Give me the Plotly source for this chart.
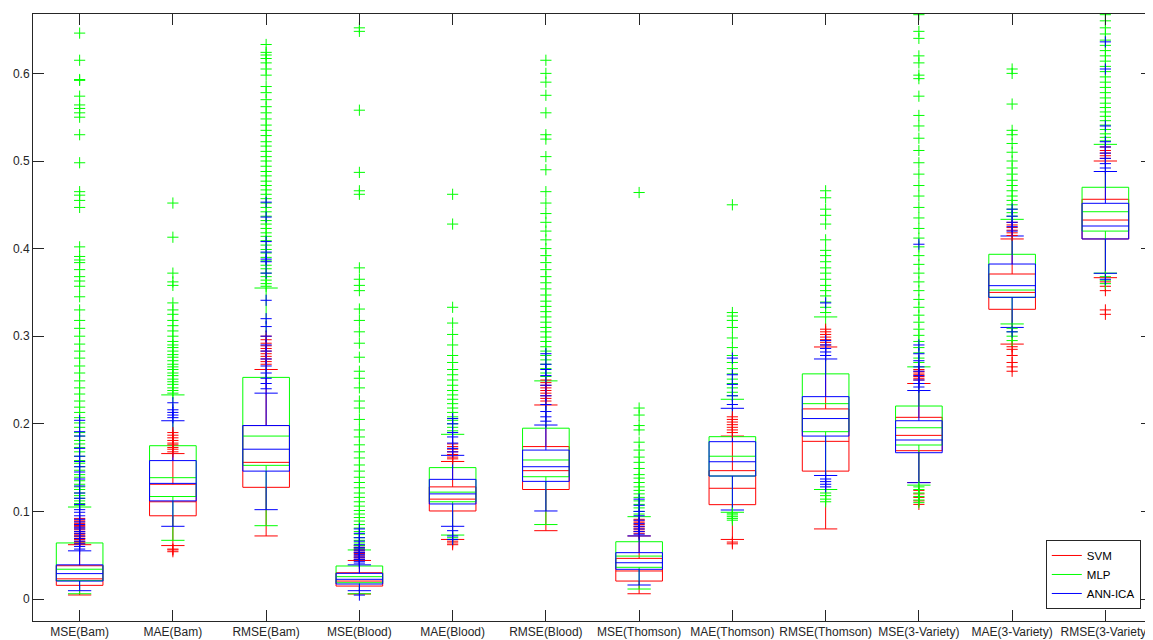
import plotly.graph_objects as go

categories = ["MSE(Bam)", "MAE(Bam)", "RMSE(Bam)", "MSE(Blood)", "MAE(Blood)", "RMSE(Blood)",
              "MSE(Thomson)", "MAE(Thomson)", "RMSE(Thomson)", "MSE(3-Variety)", "MAE(3-Variety)",
              "RMSE(3-Variety)"]
series_names = ["SVM", "MLP", "ANN-ICA"]
series_colors = ["#ff0000", "#00ff00", "#0000ff"]

# ---- SVM (red) ----
svm_lower = [0.0046, 0.061, 0.072, 0.0057, 0.068, 0.078, 0.006, 0.068, 0.080, 0.133, 0.291, 0.3668]
svm_q1 = [0.0156, 0.095, 0.1275, 0.0148, 0.1005, 0.125, 0.0205, 0.1077, 0.146, 0.1693, 0.3307, 0.411]
svm_median = [0.023, 0.111, 0.156, 0.0205, 0.114, 0.1465, 0.032, 0.1264, 0.180, 0.1868, 0.350, 0.4326]
svm_q3 = [0.038, 0.131, 0.198, 0.030, 0.128, 0.174, 0.0464, 0.1465, 0.217, 0.2074, 0.371, 0.4563]
svm_upper = [0.062, 0.166, 0.262, 0.044, 0.157, 0.2215, 0.072, 0.186, 0.2877, 0.246, 0.411, 0.500]
svm_outliers = [
    [0.063, 0.065, 0.066, 0.068, 0.069, 0.071, 0.072, 0.074, 0.075, 0.077, 0.079, 0.081, 0.083, 0.084, 0.086, 0.088, 0.090, 0.092],
    [0.054, 0.056, 0.057, 0.168, 0.171, 0.173, 0.176, 0.178, 0.181, 0.184, 0.187, 0.190],
    [0.268, 0.271, 0.274, 0.277, 0.280, 0.283, 0.286, 0.289, 0.292, 0.296, 0.300],
    [0.045, 0.047, 0.048, 0.050, 0.052, 0.053, 0.055, 0.057, 0.059, 0.061],
    [0.062, 0.064, 0.066, 0.160, 0.162, 0.165, 0.168, 0.171, 0.174, 0.177],
    [0.226, 0.229, 0.232, 0.235, 0.238, 0.241, 0.244, 0.247, 0.250],
    [0.075, 0.077, 0.079, 0.081, 0.083, 0.085, 0.087, 0.089, 0.091],
    [0.063, 0.065, 0.190, 0.193, 0.196, 0.199, 0.202, 0.205, 0.208],
    [0.290, 0.293, 0.296, 0.299, 0.302, 0.305, 0.308],
    [0.108, 0.112, 0.116, 0.120, 0.124, 0.250, 0.252, 0.254, 0.256, 0.258, 0.260, 0.262],
    [0.260, 0.265, 0.270, 0.278, 0.285, 0.288, 0.415, 0.418, 0.421, 0.424, 0.427, 0.430],
    [0.325, 0.330, 0.352, 0.357, 0.362, 0.503, 0.506, 0.509, 0.512, 0.516],
]

# ---- MLP (green) ----
mlp_lower = [0.006, 0.067, 0.0837, 0.006, 0.073, 0.085, 0.0114, 0.099, 0.125, 0.130, 0.314, 0.372]
mlp_q1 = [0.021, 0.117, 0.1526, 0.0186, 0.111, 0.1396, 0.0362, 0.1404, 0.191, 0.1758, 0.3444, 0.420]
mlp_median = [0.034, 0.1385, 0.186, 0.0255, 0.122, 0.1587, 0.049, 0.163, 0.223, 0.1955, 0.3527, 0.4421]
mlp_q3 = [0.064, 0.175, 0.253, 0.0377, 0.150, 0.195, 0.0654, 0.1853, 0.257, 0.2203, 0.3935, 0.470]
mlp_upper = [0.105, 0.233, 0.355, 0.056, 0.188, 0.249, 0.094, 0.228, 0.322, 0.265, 0.4334, 0.519]
mlp_outliers = [
    [0.107, 0.109, 0.112, 0.115, 0.118, 0.121, 0.125, 0.128, 0.131, 0.135, 0.139, 0.142, 0.147, 0.151,
     0.155, 0.158, 0.163, 0.168, 0.173, 0.177, 0.181, 0.186, 0.190, 0.196, 0.201, 0.207, 0.213, 0.219,
     0.226, 0.234, 0.241, 0.249, 0.258, 0.266, 0.275, 0.283, 0.291, 0.300, 0.309, 0.318, 0.330, 0.345,
     0.357, 0.363, 0.368, 0.376, 0.384, 0.387, 0.391, 0.402, 0.447, 0.455, 0.461, 0.465, 0.498, 0.530,
     0.550, 0.555, 0.560, 0.564, 0.574, 0.592, 0.593, 0.615, 0.646],
    [0.235, 0.238, 0.241, 0.245, 0.248, 0.251, 0.255, 0.258, 0.262, 0.265, 0.268, 0.272, 0.276, 0.279,
     0.283, 0.287, 0.290, 0.294, 0.300, 0.306, 0.312, 0.318, 0.325, 0.330, 0.338, 0.358, 0.362, 0.372,
     0.413, 0.452],
    [0.357, 0.360, 0.364, 0.368, 0.372, 0.377, 0.381, 0.386, 0.390, 0.395, 0.399, 0.404, 0.409, 0.414,
     0.418, 0.423, 0.428, 0.432, 0.437, 0.442, 0.447, 0.452, 0.457, 0.462, 0.467, 0.472, 0.477, 0.483,
     0.488, 0.494, 0.500, 0.505, 0.511, 0.517, 0.522, 0.529, 0.535, 0.541, 0.548, 0.555, 0.562, 0.570,
     0.578, 0.585, 0.598, 0.605, 0.612, 0.617, 0.621, 0.624, 0.633],
    [0.058, 0.061, 0.064, 0.067, 0.070, 0.074, 0.077, 0.081, 0.085, 0.089, 0.093, 0.097, 0.101, 0.106,
     0.111, 0.116, 0.121, 0.127, 0.133, 0.139, 0.146, 0.153, 0.161, 0.168, 0.176, 0.185, 0.193, 0.205,
     0.218, 0.226, 0.241, 0.252, 0.260, 0.276, 0.292, 0.305, 0.318, 0.331, 0.352, 0.358, 0.365, 0.378,
     0.462, 0.466, 0.487, 0.558, 0.648, 0.652],
    [0.068, 0.070, 0.192, 0.196, 0.200, 0.204, 0.208, 0.213, 0.218, 0.223, 0.228, 0.233, 0.238, 0.244,
     0.250, 0.256, 0.262, 0.270, 0.278, 0.290, 0.302, 0.315, 0.333, 0.428, 0.462],
    [0.254, 0.258, 0.263, 0.268, 0.273, 0.278, 0.283, 0.288, 0.294, 0.299, 0.305, 0.310, 0.316, 0.322,
     0.328, 0.334, 0.340, 0.347, 0.354, 0.361, 0.368, 0.376, 0.384, 0.392, 0.400, 0.410, 0.420, 0.430,
     0.440, 0.452, 0.465, 0.490, 0.505, 0.525, 0.530, 0.555, 0.575, 0.590, 0.600, 0.615],
    [0.097, 0.100, 0.104, 0.108, 0.112, 0.116, 0.120, 0.124, 0.128, 0.133, 0.138, 0.142, 0.149, 0.156,
     0.162, 0.170, 0.179, 0.193, 0.198, 0.210, 0.218, 0.464],
    [0.090, 0.092, 0.094, 0.096, 0.098, 0.232, 0.236, 0.241, 0.246, 0.251, 0.257, 0.263, 0.270, 0.278,
     0.287, 0.298, 0.310, 0.318, 0.323, 0.327, 0.450],
    [0.111, 0.114, 0.118, 0.121, 0.327, 0.333, 0.339, 0.346, 0.352, 0.358, 0.365, 0.372, 0.378, 0.385,
     0.392, 0.398, 0.410, 0.428, 0.438, 0.445, 0.458, 0.466],
    [0.110, 0.113, 0.117, 0.121, 0.125, 0.128, 0.270, 0.275, 0.281, 0.287, 0.294, 0.301, 0.308, 0.316,
     0.324, 0.333, 0.342, 0.352, 0.362, 0.372, 0.382, 0.392, 0.402, 0.412, 0.423, 0.435, 0.447, 0.460,
     0.472, 0.485, 0.498, 0.512, 0.526, 0.540, 0.552, 0.574, 0.594, 0.598, 0.612, 0.620, 0.640, 0.648,
     0.667],
    [0.295, 0.300, 0.305, 0.309, 0.437, 0.441, 0.445, 0.450, 0.455, 0.460, 0.466, 0.472, 0.478, 0.485,
     0.492, 0.500, 0.510, 0.520, 0.530, 0.535, 0.565, 0.600, 0.605],
    [0.360, 0.364, 0.368, 0.523, 0.527, 0.531, 0.536, 0.541, 0.546, 0.551, 0.556, 0.561, 0.566, 0.572,
     0.578, 0.584, 0.590, 0.596, 0.602, 0.608, 0.614, 0.620, 0.626, 0.632, 0.638, 0.645, 0.652, 0.660,
     0.667],
]

# ---- ANN-ICA (blue) ----
ica_lower = [0.0095, 0.083, 0.102, 0.0095, 0.083, 0.1005, 0.016, 0.1016, 0.141, 0.1328, 0.310, 0.3718]
ica_q1 = [0.0205, 0.112, 0.146, 0.0171, 0.1085, 0.1343, 0.0339, 0.1404, 0.186, 0.167, 0.3444, 0.411]
ica_median = [0.029, 0.132, 0.171, 0.0225, 0.120, 0.151, 0.0414, 0.1567, 0.206, 0.1815, 0.3577, 0.4258]
ica_q3 = [0.039, 0.158, 0.198, 0.0293, 0.1366, 0.170, 0.0529, 0.1796, 0.231, 0.2035, 0.3824, 0.4517]
ica_upper = [0.055, 0.2035, 0.235, 0.039, 0.164, 0.1986, 0.072, 0.2177, 0.274, 0.238, 0.4144, 0.488]
ica_outliers = [
    [0.057, 0.060, 0.063, 0.066, 0.069, 0.072, 0.075, 0.077, 0.080, 0.082, 0.085, 0.088, 0.091, 0.095,
     0.099, 0.102, 0.108, 0.115, 0.121, 0.129, 0.137, 0.145, 0.151, 0.157, 0.163, 0.172, 0.186, 0.191,
     0.204],
    [0.207, 0.210, 0.213, 0.216, 0.224],
    [0.240, 0.246, 0.252, 0.258, 0.266, 0.274, 0.283, 0.290, 0.300, 0.311, 0.320, 0.341, 0.372, 0.385,
     0.388, 0.396, 0.408, 0.436, 0.453],
    [0.0045, 0.041, 0.043, 0.045, 0.047, 0.049, 0.051, 0.053, 0.055, 0.057, 0.059, 0.062, 0.066, 0.070,
     0.075, 0.080],
    [0.068, 0.072, 0.078, 0.168, 0.172, 0.178, 0.185, 0.190, 0.200, 0.206],
    [0.203, 0.208, 0.214, 0.222, 0.232, 0.244, 0.255, 0.262, 0.268, 0.280],
    [0.074, 0.077, 0.080, 0.083, 0.086, 0.090, 0.095, 0.100, 0.107, 0.114],
    [0.222, 0.232, 0.245, 0.256, 0.275],
    [0.128, 0.131, 0.134, 0.137, 0.278, 0.282, 0.286, 0.290, 0.295, 0.338],
    [0.242, 0.246, 0.250, 0.255, 0.260, 0.265, 0.272, 0.280, 0.290, 0.405],
    [0.305, 0.420, 0.425, 0.430, 0.437, 0.445],
    [0.365, 0.492, 0.497, 0.503, 0.509, 0.516, 0.522, 0.540, 0.605, 0.636],
]

y_tick_values = [0, 0.1, 0.2, 0.3, 0.4, 0.5, 0.6]
y_tick_labels = ["0", "0.1", "0.2", "0.3", "0.4", "0.5", "0.6"]

stats = [
    (svm_lower, svm_q1, svm_median, svm_q3, svm_upper, svm_outliers),
    (mlp_lower, mlp_q1, mlp_median, mlp_q3, mlp_upper, mlp_outliers),
    (ica_lower, ica_q1, ica_median, ica_q3, ica_upper, ica_outliers),
]

positions = list(range(len(categories)))
fig = go.Figure()

for name, color, (lo, q1, med, q3, up, outs) in zip(series_names, series_colors, stats):
    fig.add_trace(go.Box(
        x=positions, q1=q1, median=med, q3=q3, lowerfence=lo, upperfence=up,
        name=name, showlegend=False, boxpoints=False,
        line=dict(color=color, width=1), fillcolor="rgba(0,0,0,0)",
        width=0.5, whiskerwidth=0.5, hoverinfo="skip",
    ))
    ox, oy = [], []
    for i, vals in enumerate(outs):
        ox.extend([i] * len(vals))
        oy.extend(vals)
    fig.add_trace(go.Scatter(
        x=ox, y=oy, mode="markers", showlegend=False, hoverinfo="skip",
        marker=dict(symbol="cross-thin", size=8, line=dict(color=color, width=1)),
    ))

for name, color in zip(series_names, series_colors):
    fig.add_trace(go.Scatter(
        x=[None], y=[None], mode="lines", name=name,
        line=dict(color=color, width=1), showlegend=True,
    ))

axis_color = "#262626"
# the page body adds an 8px margin on the top and left, so the figure is 8px smaller
fig.update_layout(
    width=1145, height=632,
    margin=dict(l=25, r=1, t=6, b=19),
    paper_bgcolor="white", plot_bgcolor="white",
    font=dict(family="Liberation Sans, Arial, sans-serif", size=12, color=axis_color),
    boxmode="overlay",
    showlegend=True,
    legend=dict(
        x=0.990, y=0.0198, xanchor="right", yanchor="bottom",
        bordercolor=axis_color, borderwidth=1, bgcolor="white",
        font=dict(size=11.5, color="#000000"),
        tracegroupgap=0, itemwidth=30,
    ),
)
fig.update_xaxes(
    range=[-0.5, 11.5], tickmode="array", tickvals=positions, ticktext=categories,
    showgrid=False, zeroline=False, showline=True, linecolor=axis_color, linewidth=1,
    mirror="ticks", ticks="inside", ticklen=11, tickcolor=axis_color, tickwidth=1,
    tickfont=dict(size=12, color=axis_color), automargin=False, ticklabelstandoff=0,
)
fig.update_yaxes(
    range=[-0.0251, 0.6678], tickmode="array", tickvals=y_tick_values, ticktext=y_tick_labels,
    showgrid=False, zeroline=False, showline=True, linecolor=axis_color, linewidth=1,
    mirror="ticks", ticks="inside", ticklen=11, tickcolor=axis_color, tickwidth=1,
    tickfont=dict(size=12, color=axis_color), automargin=False,
)

fig.write_html("out.html")
